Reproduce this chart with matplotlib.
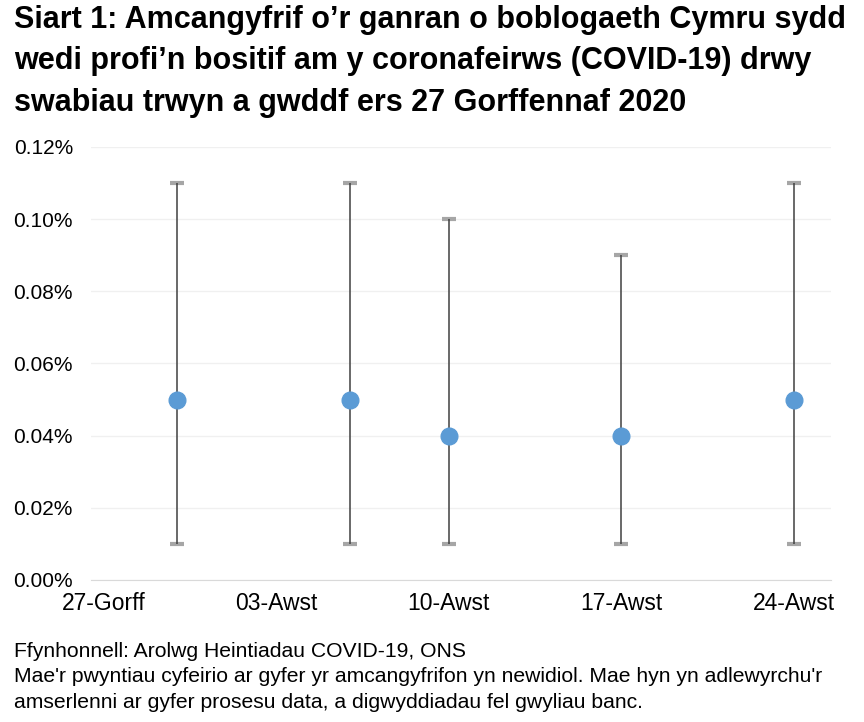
import matplotlib
matplotlib.use("Agg")
import matplotlib.pyplot as plt
import matplotlib.dates as mdates
import numpy as np

# Siart 1: amcangyfrif canran positif (COVID-19), Cymru
dates = ["2020-07-30", "2020-08-06", "2020-08-10", "2020-08-17", "2020-08-24"]
estimate = [0.05, 0.05, 0.04, 0.04, 0.05]
lower = [0.01, 0.01, 0.01, 0.01, 0.01]
upper = [0.11, 0.11, 0.10, 0.09, 0.11]

tick_dates = ["2020-07-27", "2020-08-03", "2020-08-10", "2020-08-17", "2020-08-24"]
tick_labels = ["27-Gorff", "03-Awst", "10-Awst", "17-Awst", "24-Awst"]
y_ticks = [0.00, 0.02, 0.04, 0.06, 0.08, 0.10, 0.12]

title = ("Siart 1: Amcangyfrif o\u2019r ganran o boblogaeth Cymru sydd\n"
         "wedi profi\u2019n bositif am y coronafeirws (COVID-19) drwy\n"
         "swabiau trwyn a gwddf ers 27 Gorffennaf 2020")
footnote = ("Ffynhonnell: Arolwg Heintiadau COVID-19, ONS\n"
            "Mae'r pwyntiau cyfeirio ar gyfer yr amcangyfrifon yn newidiol. Mae hyn yn adlewyrchu'r\n"
            "amserlenni ar gyfer prosesu data, a digwyddiadau fel gwyliau banc.")

plt.rcParams['font.family'] = ['Liberation Sans', 'DejaVu Sans']

x = mdates.date2num(np.array(dates, dtype="datetime64[D]"))
est = np.array(estimate)
yerr = [est - np.array(lower), np.array(upper) - est]

fig = plt.figure(figsize=(8.64, 7.22), dpi=100)
ax = fig.add_axes([0.1053, 0.1967, 0.8565, 0.5997])

line, caps, bars = ax.errorbar(x, est, yerr=yerr, fmt="o", color="#5b9bd5", markersize=12,
                               ecolor="#404040", elinewidth=1.1, capsize=5, capthick=3, zorder=3)
for c in caps:
    c.set_markeredgecolor("#a6a6a6")
    c.set_markerfacecolor("#a6a6a6")
    c.set_zorder(2)

xt = mdates.date2num(np.array(tick_dates, dtype="datetime64[D]"))
ax.set_xticks(xt)
ax.set_xticklabels(tick_labels, fontsize=16.5)
ax.set_xlim(xt[0] - 0.5, xt[-1] + 1.5)

ax.set_ylim(0, 0.12)
ax.set_yticks(y_ticks)
ax.set_yticklabels(["{:.2f}%".format(v) for v in y_ticks], fontsize=15)
ax.yaxis.grid(True, color="#f0f0f0", linewidth=1)
ax.set_axisbelow(True)
ax.tick_params(axis="y", length=0, pad=13)
ax.tick_params(axis="x", length=0, pad=9)

for s in ["top", "right", "left"]:
    ax.spines[s].set_visible(False)
ax.spines["bottom"].set_color("#d9d9d9")

fig.text(0.016, 1 - 5 / 722, title, fontsize=22, fontweight="bold", va="top", ha="left", linespacing=1.5)
fig.text(0.016, 1 - 642 / 722, footnote, fontsize=15.2, va="top", ha="left", linespacing=1.42)

fig.savefig("out.png", dpi=100)
